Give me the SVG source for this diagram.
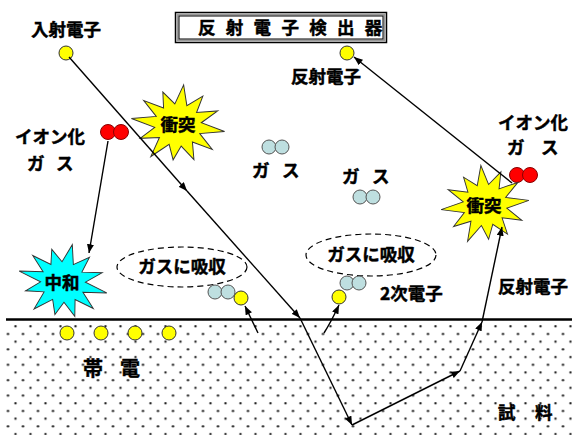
<svg xmlns="http://www.w3.org/2000/svg" width="580" height="435" viewBox="0 0 580 435">
  <defs>
    <style>
      text { font-family: "Noto Sans CJK JP", "Liberation Sans", sans-serif; font-weight: bold; fill: #000; stroke: #000; stroke-width: 0.45px; }
      .lbl { font-size: 17.5px; }
      .big { font-size: 20px; }
      .ctr { text-anchor: middle; }
      .e { fill: #FFFF00; stroke: #333; stroke-width: 1; }
      .ion { fill: #FF0000; stroke: #800; stroke-width: 1; }
      .gas { fill: #BEDFE0; stroke: #555; stroke-width: 1; }
      .burst { stroke: #333; stroke-width: 1; }
      .path { fill: none; stroke: #000; stroke-width: 1.4; marker-end: url(#ah); }
      .oval { fill: none; stroke: #000; stroke-width: 1.2; stroke-dasharray: 6 4; }
    </style>
    <marker id="ah" viewBox="0 0 10 8" refX="10" refY="4" markerWidth="9" markerHeight="7" markerUnits="userSpaceOnUse" orient="auto">
      <path d="M0,0 L10,4 L0,8 z" fill="#000"/>
    </marker>
    <pattern id="dots" patternUnits="userSpaceOnUse" x="0.5" y="2.6" width="15" height="15.4">
      <circle cx="7.5" cy="8" r="1.2" fill="#222"/>
      <circle cx="15" cy="15.7" r="1.2" fill="#222"/>
      <circle cx="0" cy="15.7" r="1.2" fill="#222"/>
      <circle cx="15" cy="0.3" r="1.2" fill="#222"/>
      <circle cx="0" cy="0.3" r="1.2" fill="#222"/>
    </pattern>
    <!-- 12-point explosion shape, centred on the origin -->
    <polygon id="star" class="burst" points="48,0 23.2,5.5 38.1,19.4 17,14.9 21,32 6.2,20.4 0,35.2 -6.2,20.4 -23,35 -17,14.9 -36.4,18.5 -23.2,5.5 -48,0 -23.2,-5.5 -38.1,-19.4 -17,-14.9 -20,-30.5 -6.2,-20.4 0,-40.5 6.2,-20.4 21,-32 17,-14.9 38.1,-19.4 23.2,-5.5"/>
  </defs>

  <rect width="580" height="435" fill="#fff"/>

  <!-- sample block -->
  <g id="sample">
    <rect x="6" y="320" width="566" height="115" fill="url(#dots)"/>
    <line x1="6" y1="319.5" x2="572" y2="319.5" stroke="#000" stroke-width="2.5"/>
    <text class="big" x="83" y="376">帯</text>
    <text class="big" x="120" y="376">電</text>
    <text class="lbl" x="498" y="419">試</text>
    <text class="lbl" x="535" y="419">料</text>
  </g>

  <!-- surface charge -->
  <g id="charge">
    <circle class="e" cx="67" cy="333" r="7"/>
    <circle class="e" cx="101" cy="333" r="7"/>
    <circle class="e" cx="135" cy="333" r="7"/>
    <circle class="e" cx="169" cy="333" r="7"/>
  </g>

  <!-- detector -->
  <g id="detector">
    <rect x="175.5" y="12.5" width="211" height="30" fill="#fff" stroke="#000" stroke-width="1.5"/>
    <rect x="177.5" y="14.5" width="207" height="26" fill="none" stroke="#999" stroke-width="2"/>
    <rect x="179" y="16" width="204" height="23" fill="none" stroke="#000" stroke-width="1"/>
    <text class="lbl" x="198" y="34">反</text>
    <text class="lbl" x="225.8" y="34">射</text>
    <text class="lbl" x="253.6" y="34">電</text>
    <text class="lbl" x="281.4" y="34">子</text>
    <text class="lbl" x="309.2" y="34">検</text>
    <text class="lbl" x="337" y="34">出</text>
    <text class="lbl" x="364.8" y="34">器</text>
  </g>

  <g id="incident">
    <text class="lbl ctr" x="66" y="36">入射電子</text>
    <circle class="e" cx="66" cy="53" r="7"/>
  </g>

  <g id="bse-detected">
    <circle class="e" cx="347" cy="53" r="7"/>
    <text class="lbl ctr" x="326" y="83">反射電子</text>
  </g>

  <g id="ion-left">
    <text class="lbl" x="15" y="143">イオン化</text>
    <text class="lbl" x="27" y="170">ガ</text>
    <text class="lbl" x="56" y="170">ス</text>
    <circle class="ion" cx="108" cy="132" r="7.5"/>
    <circle class="ion" cx="121" cy="132" r="7.5"/>
  </g>

  <g id="ion-right">
    <text class="lbl" x="498" y="129">イオン化</text>
    <text class="lbl" x="507" y="154">ガ</text>
    <text class="lbl" x="541" y="154">ス</text>
    <circle class="ion" cx="517" cy="175" r="7.5"/>
    <circle class="ion" cx="530" cy="175" r="7.5"/>
  </g>

  <g id="gas-1">
    <circle class="gas" cx="269" cy="147" r="7"/>
    <circle class="gas" cx="282" cy="147" r="7"/>
    <text class="lbl" x="252" y="177">ガ</text>
    <text class="lbl" x="282" y="177">ス</text>
  </g>

  <g id="gas-2">
    <text class="lbl" x="342" y="183">ガ</text>
    <text class="lbl" x="372" y="183">ス</text>
    <circle class="gas" cx="360" cy="197" r="7"/>
    <circle class="gas" cx="373" cy="197" r="7"/>
  </g>

  <g id="collision-1">
    <use href="#star" fill="#FFFF00" transform="translate(178,125) rotate(8) scale(0.98,1)"/>
    <text class="lbl ctr" x="178" y="131">衝突</text>
  </g>

  <g id="collision-2">
    <use href="#star" fill="#FFFF00" transform="translate(485,205) rotate(-6) scale(0.92,0.98)"/>
    <text class="lbl ctr" x="484" y="212">衝突</text>
  </g>

  <g id="neutralize">
    <use href="#star" fill="#00FFFF" transform="translate(63,282) rotate(14) scale(0.94,0.95)"/>
    <text class="lbl ctr" x="62" y="289">中和</text>
  </g>

  <g id="absorb-1">
    <ellipse class="oval" cx="182" cy="267" rx="65" ry="20"/>
    <text class="lbl ctr" x="182" y="273">ガスに吸収</text>
    <circle class="gas" cx="215" cy="292" r="7"/>
    <circle class="gas" cx="228" cy="292" r="7"/>
    <circle class="e" cx="241" cy="298" r="7"/>
  </g>

  <g id="absorb-2">
    <ellipse class="oval" cx="371" cy="255" rx="65" ry="21"/>
    <text class="lbl ctr" x="371" y="261">ガスに吸収</text>
    <circle class="gas" cx="347" cy="283" r="7"/>
    <circle class="gas" cx="359" cy="283" r="7"/>
    <circle class="e" cx="339" cy="297" r="7"/>
    <text class="lbl" x="380" y="300">2次電子</text>
  </g>

  <g id="bse-label">
    <text class="lbl" x="498" y="293">反射電子</text>
  </g>

  <!-- trajectories -->
  <g id="connectors">
    <line class="path" x1="69" y1="57" x2="187" y2="191"/>
    <line class="path" x1="187" y1="191" x2="300" y2="318"/>
    <line class="path" x1="300" y1="318" x2="352" y2="425"/>
    <line class="path" x1="352" y1="425" x2="460" y2="371"/>
    <line class="path" x1="460" y1="371" x2="482" y2="322"/>
    <line class="path" x1="482" y1="322" x2="502" y2="227"/>
    <line class="path" x1="512" y1="183" x2="354" y2="57"/>
    <line class="path" x1="108" y1="141" x2="89" y2="253"/>
    <line class="path" x1="258" y1="333" x2="245" y2="306"/>
    <path class="path" d="M324,333 Q331,322 339,305"/>
  </g>
</svg>
